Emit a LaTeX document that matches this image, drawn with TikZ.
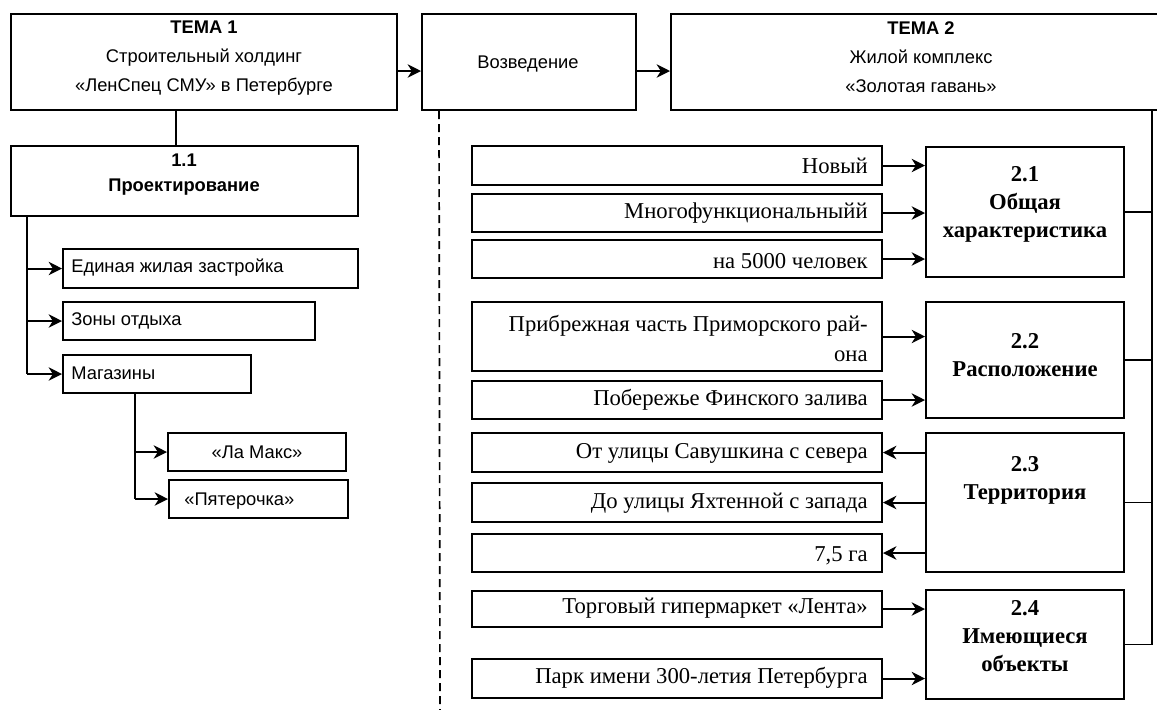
\documentclass[tikz,border=0pt]{standalone}
\usepackage{fontspec}
\setmainfont{Liberation Serif}
\newfontfamily\arialf{Liberation Sans}
\usetikzlibrary{arrows.meta,fit}
\tikzset{
  box/.style={draw, line width=1.2pt, inner sep=0pt},
  ln/.style={line width=1.2pt},
  thinln/.style={line width=0.8pt},
  arr/.style={line width=1.2pt, -{Stealth[length=8pt,width=8pt,inset=2.5pt]}},
  dashln/.style={line width=1pt, dash pattern=on 4.8pt off 3pt},
  sans/.style={font=\arialf\fontsize{11}{17.4}\selectfont, align=center, inner sep=0pt},
  sansB/.style={font=\arialf\bfseries\fontsize{11}{15}\selectfont, align=center, inner sep=0pt},
  serR/.style={font=\fontsize{13.6}{18}\selectfont, align=right, anchor=east, inner sep=0pt},
  serB/.style={font=\bfseries\fontsize{13.6}{16.8}\selectfont, align=center, inner sep=0pt},
}
\begin{document}
\begin{tikzpicture}[x=0.6pt,y=-0.6pt]
\fill[white] (0,0) rectangle (1157,709);
\useasboundingbox (0,0) rectangle (1157,709);

% top row
\node[box, fit={(11,14) (397,110)}] (t1) {};
\node[sans] (t1x) at (204,58) {\textbf{ТЕМА 1}\\Строительный холдинг\\«ЛенСпец СМУ» в Петербурге};
\node[box, fit={(422,14) (636,110)}] (voz) {};
\node[sans] (vozx) at (528,64) {Возведение};
\node[box, fit={(671,14) (1175,110)}] (t2) {};
\node[sans] (t2x) at (921,57) {\textbf{ТЕМА 2}\\Жилой комплекс\\«Золотая гавань»};

\draw[arr] ([yshift=-5.4pt]t1.east) -- ([yshift=-5.4pt]voz.west);
\draw[arr] ([yshift=-5.4pt]voz.east) -- ([yshift=-5.4pt]t2.west);

% left branch
\node[box, fit={(11,146) (358,216)}] (p11) {};
\node[sansB] (p11x) at (184,175) {1.1\\Проектирование};
\draw[ln] ([xshift=-16.8pt]t1.south) -- ([xshift=-16.8pt]t1.south |- p11.north);

\node[box, fit={(63,249) (358,288)}] (edin) {};
\node[sans, anchor=west] (edinx) at (71,268) {Единая жилая застройка};
\node[box, fit={(63,302) (315,340)}] (zony) {};
\node[sans, anchor=west] (zonyx) at (71,321) {Зоны отдыха};
\node[box, fit={(63,355) (251,393)}] (mag) {};
\node[sans, anchor=west] (magx) at (71,373) {Магазины};
\node[box, fit={(168,433) (346,471)}] (lamax) {};
\node[sans] (lamaxx) at (257,452) {«Ла Макс»};
\node[box, fit={(169,480) (348,518)}] (pyat) {};
\node[sans, anchor=west] (pyatx) at (184,501) {«Пятерочка»};

\coordinate (lt) at ([xshift=10.2pt]p11.south west);
\draw[ln] (lt) -- (lt |- mag.west);
\draw[arr] (lt |- edin.west) -- (edin.west);
\draw[arr] (lt |- zony.west) -- (zony.west);
\draw[arr] (lt |- mag.west) -- (mag.west);

\coordinate (mt) at ([xshift=43.8pt]mag.south west);
\draw[ln] (mt) -- (mt |- pyat.west);
\draw[arr] (mt |- lamax.west) -- (lamax.west);
\draw[arr] (mt |- pyat.west) -- (pyat.west);

% dashed separator
\coordinate (dtop) at ([xshift=10.8pt]voz.south west);
\coordinate (dbot) at (440,712);
\draw[dashln] (dtop) -- (dbot);

% right: left column boxes
\node[box, fit={(472,146) (882,185)}] (novy) {};
\node[serR] (novyx) at (868,166) {Новый};
\node[box, fit={(472,194) (882,232)}] (mnogo) {};
\node[serR] (mnogox) at (868,213) {Многофункциональныйй};
\node[box, fit={(472,240) (882,278)}] (na5) {};
\node[serR] (na5x) at (868,261) {на 5000 человек};
\node[box, fit={(472,302) (882,371)}] (pribr) {};
\node[serR] (pribrx) at (868,338) {Прибрежная часть Приморского рай-\\она};
\node[box, fit={(472,381) (882,419)}] (pober) {};
\node[serR] (poberx) at (868,400) {Побережье Финского залива};
\node[box, fit={(472,433) (882,472)}] (otul) {};
\node[serR] (otulx) at (868,453) {От улицы Савушкина с севера};
\node[box, fit={(472,483) (882,522)}] (doul) {};
\node[serR] (doulx) at (868,503) {До улицы Яхтенной с запада};
\node[box, fit={(472,534) (882,572)}] (ga) {};
\node[serR] (gax) at (868,556) {7,5 га};
\node[box, fit={(472,591) (882,627)}] (torg) {};
\node[serR] (torgx) at (868,608) {Торговый гипермаркет «Лента»};
\node[box, fit={(472,659) (882,698)}] (park) {};
\node[serR] (parkx) at (868,678) {Парк имени 300-летия Петербурга};

% right: section boxes
\node[box, fit={(926,147) (1124,277)}] (s21) {};
\node[serB] (s21x) at (1025,204) {2.1\\Общая\\характеристика};
\node[box, fit={(926,302) (1124,418)}] (s22) {};
\node[serB] (s22x) at (1025,355) {2.2\\Расположение};
\node[box, fit={(926,433) (1124,572)}] (s23) {};
\node[serB] (s23x) at (1025,480) {2.3\\Территория};
\node[box, fit={(926,590) (1124,699)}] (s24) {};
\node[serB] (s24x) at (1025,636) {2.4\\Имеющиеся\\объекты};

% arrows into sections
\draw[arr] (novy.east) -- (novy.east -| s21.west);
\draw[arr] (mnogo.east) -- (mnogo.east -| s21.west);
\draw[arr] (na5.east) -- (na5.east -| s21.west);
\draw[arr] (pribr.east) -- (pribr.east -| s22.west);
\draw[arr] (pober.east) -- (pober.east -| s22.west);
\draw[arr] (otul.east -| s23.west) -- (otul.east);
\draw[arr] (doul.east -| s23.west) -- (doul.east);
\draw[arr] (ga.east -| s23.west) -- (ga.east);
\draw[arr] (torg.east) -- (torg.east -| s24.west);
\draw[arr] (park.east) -- (park.east -| s24.west);

% right bus
\coordinate (rv) at ([xshift=-11.4pt]t2.south -| 1171,0);
\coordinate (rv) at (1152,110);
\draw[thinln] (rv) -- (rv |- s24.east);
\draw[thinln] (s21.east) -- (s21.east -| rv);
\draw[thinln] (s22.east) -- (s22.east -| rv);
\draw[thinln] (s23.east) -- (s23.east -| rv);
\draw[thinln] (s24.east) -- (s24.east -| rv);
\end{tikzpicture}
\end{document}
